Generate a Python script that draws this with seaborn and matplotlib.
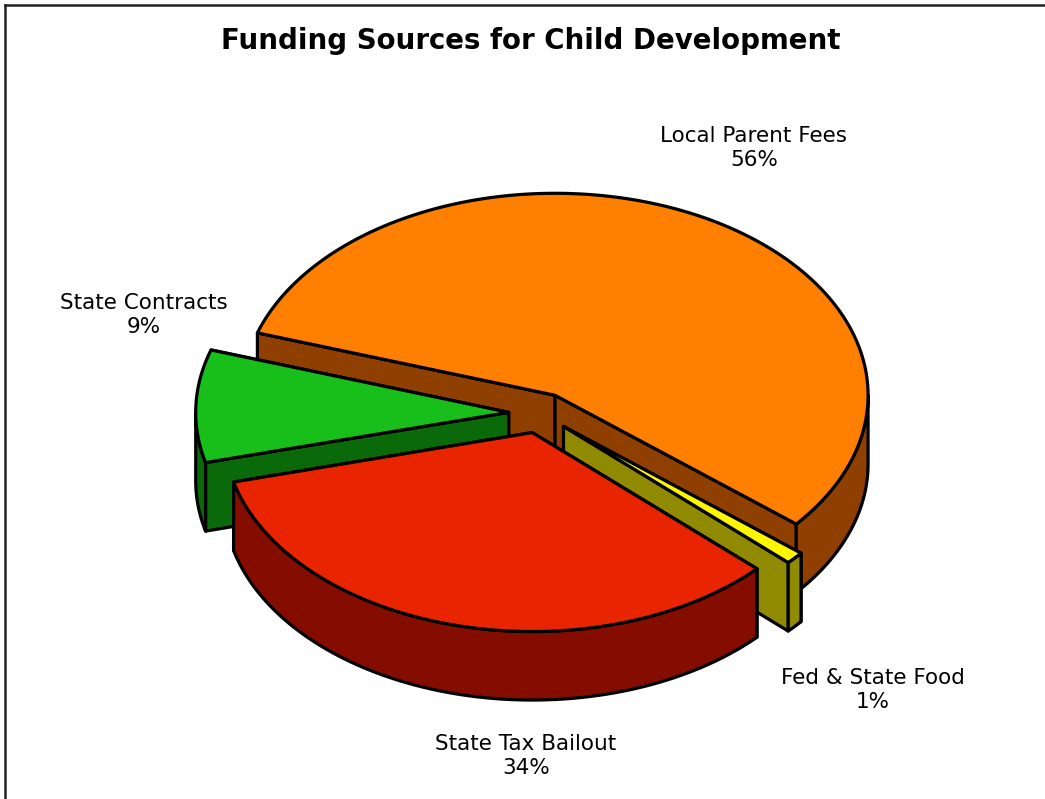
import numpy as np
import matplotlib
matplotlib.use("Agg")
import matplotlib.pyplot as plt
from matplotlib.patches import Polygon
import seaborn as sns

# Funding shares, in percent, clockwise from the left-hand side of the pie
labels = ["Local Parent Fees", "Fed & State Food", "State Tax Bailout", "State Contracts"]
shares = [56, 1, 34, 9]
explode = [0.1, 0.1, 0.1, 0.1]
top_colors = ["#FF7F00", "#FFF700", "#E82500", "#18BF1A"]
side_colors = ["#8F3F00", "#8F8A00", "#840D00", "#0A6A0A"]
label_centers = [(754, 148), (873, 690), (526, 756), (144, 315)]

TITLE = "Funding Sources for Child Development"
START_ANGLE = 162.0
CENTER = (540.0, 413.0)
RX, RY = 313.0, 202.0
DEPTH = 68.5
RIM_SCALE = [1.0, 0.985, 0.985, 1.0]
EDGE = dict(edgecolor="black", linewidth=2.3, joinstyle="round")

sns.set_theme(style="white", rc={"font.family": "DejaVu Sans"})
top_palette = sns.color_palette(top_colors)
side_palette = sns.color_palette(side_colors)

fig = plt.figure(figsize=(10.45, 7.99), dpi=100)
ax = fig.add_axes([5 / 1045, 0, 1040 / 1045, 794 / 799])
ax.set_xlim(5, 1045)
ax.set_ylim(799, 5)
ax.set_xticks([])
ax.set_yticks([])
for name, spine in ax.spines.items():
    spine.set_visible(name in ("left", "top"))
    spine.set_color("#222222")
    spine.set_linewidth(1.8)


def rim_point(apex, degrees, scale):
    rad = np.deg2rad(degrees)
    return np.column_stack([apex[0] + scale * RX * np.cos(rad),
                            apex[1] - scale * RY * np.sin(rad)])


def extruded(points):
    points = np.atleast_2d(points)
    return np.vstack([points, (points + [0, DEPTH])[::-1]])


def draw_wedge(a_start, a_end, offset, scale, top, side):
    """Draw one slice sweeping clockwise from a_start to a_end."""
    mid = np.deg2rad((a_start + a_end) / 2)
    apex = np.array([CENTER[0] + offset * RX * np.cos(mid),
                     CENTER[1] - offset * RY * np.sin(mid)])
    start_pt = rim_point(apex, np.array([a_start]), scale)
    end_pt = rim_point(apex, np.array([a_end]), scale)
    start_face = extruded(np.vstack([apex, start_pt]))
    end_face = extruded(np.vstack([apex, end_pt]))

    # A cut face shows only when its outward normal points towards the viewer
    start_visible = np.cos(np.deg2rad(a_start)) < 0
    end_visible = np.cos(np.deg2rad(a_end)) > 0
    faces = sorted([(start_visible, start_face), (end_visible, end_face)], key=lambda f: f[0])
    for _, face in faces:
        ax.add_patch(Polygon(face, closed=True, facecolor=side, **EDGE))

    # Outer wall: only the part of the arc on the near half of the ellipse
    high = min(a_start, 0.0)
    low = max(a_end, -180.0)
    if high > low:
        wall = rim_point(apex, np.linspace(high, low, 200), scale)
        ax.add_patch(Polygon(extruded(wall), closed=True, facecolor=side, **EDGE))

    arc = rim_point(apex, np.linspace(a_start, a_end, 400), scale)
    ax.add_patch(Polygon(np.vstack([apex, arc]), closed=True, facecolor=top, **EDGE))


sweeps = np.array(shares) / sum(shares) * 360.0
starts = START_ANGLE - np.concatenate([[0.0], np.cumsum(sweeps)[:-1]])
ends = starts - sweeps

# Painter's order: back slice first, the front slice last
for i in [0, 3, 1, 2]:
    draw_wedge(starts[i], ends[i], explode[i], RIM_SCALE[i], top_palette[i], side_palette[i])

for name, share, (x, y) in zip(labels, shares, label_centers):
    ax.text(x, y, f"{name}\n{share}%", ha="center", va="center",
            fontsize=15.5, color="black", linespacing=1.26)

ax.text(531, 41, TITLE, ha="center", va="center", fontsize=19.9,
        fontweight="bold", color="black")

fig.savefig("out.png", dpi=100, facecolor="white")
